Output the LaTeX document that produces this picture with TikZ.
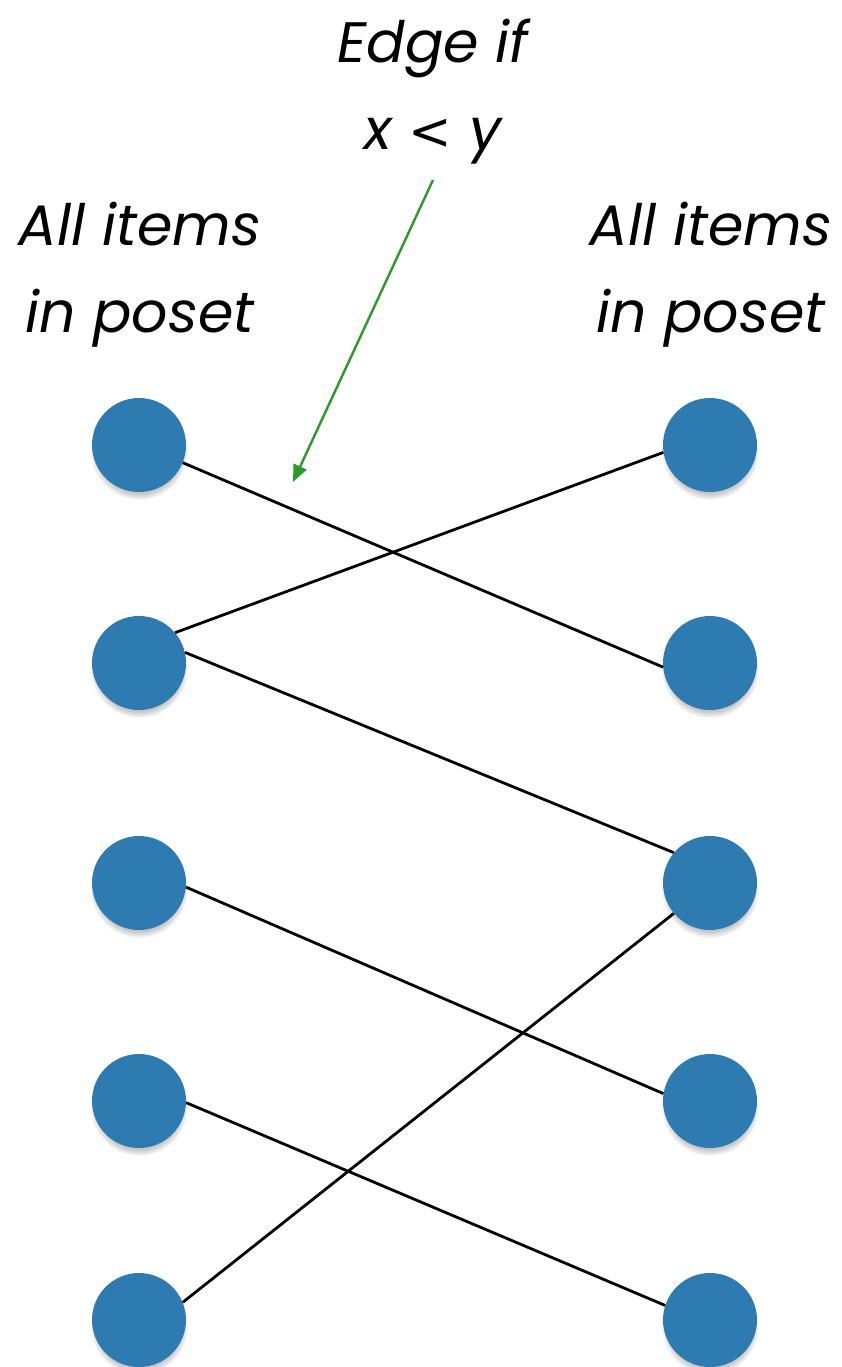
\documentclass[tikz,border=0pt]{standalone}
\usepackage{fontspec}
\setmainfont{Poppins}
\newfontfamily\relfont{DejaVu Sans}
\usepackage{xcolor}
\usetikzlibrary{arrows.meta,shadows}

\definecolor{itemblue}{RGB}{46,123,177}
\definecolor{hintgreen}{RGB}{42,154,42}

\begin{document}
\begin{tikzpicture}[x=1pt,y=-1pt]

            \tikzset{dot/.style={circle, fill=itemblue, minimum size=94pt, inner sep=0pt,
                       circular drop shadow={shadow xshift=0pt, shadow yshift=-6pt, shadow scale=1.04, opacity=0.45}},
                     label/.style={align=center, anchor=base, font=\fontsize{57}{87}\selectfont\itshape},
                     edge/.style={line width=2.8pt, black}}

            \useasboundingbox (0,0) rectangle (842,1367);

            % the two columns of items
            \foreach \i/\y in {1/445, 2/663, 3/883, 4/1101, 5/1320} {
              \node [dot] (l\i) at (139,\y) {};
              \node [dot] (r\i) at (710,\y) {};
            }

            % anchored on the baseline of the second line
            \node [label] (lefthead)  at (140,332) {All items\\in poset};
            \node [label] (righthead) at (711,332) {All items\\in poset};
            \node [label] (edgehint)  at (433,150) {Edge if\\x {\relfont\upshape\fontsize{52}{87}\selectfont <} y};

            \draw [edge] (l1.-22) -- (r2.185);
            \draw [edge] (l2.40)  -- (r1.189);
            \draw [edge] (l2.13)  -- (r3.140);
            \draw [edge] (l3.-5)  -- (r4.171);
            \draw [edge] (l4.-2)  -- (r5.162);
            \draw [edge] (l5.22)  -- (r3.220);

            \coordinate (hintfrom) at (433,180);
            \coordinate (hintto)   at (293,482);
            \draw [hintgreen, line width=2.4pt, -{Triangle[length=17pt,width=14pt]}] (hintfrom) -- (hintto);

        \end{tikzpicture}
\end{document}
